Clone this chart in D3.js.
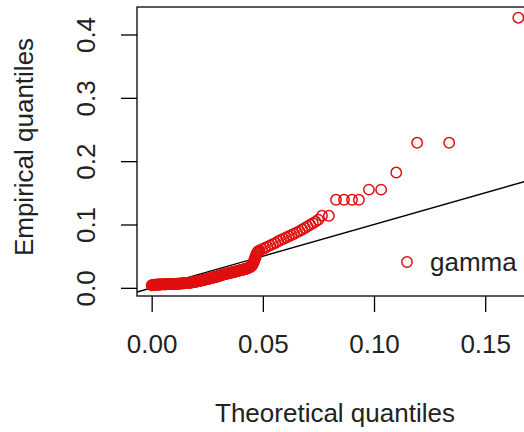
<!DOCTYPE html>
<html lang="en">
<head>
<meta charset="utf-8">
<title>qq plot gamma</title>
<script src="https://d3js.org/d3.v7.min.js"></script>
<style>
  body{ margin:0; background:#fff; }
  svg{ display:block; font-family:"Liberation Sans", Arial, sans-serif; }
</style>
</head>
<body>
<div id="chart"></div>
<script>
// theoretical quantiles (x) and empirical quantiles (y)
var theoretical = [
  0.0000,0.00035,0.0007,0.00105,0.0014,0.00175,0.0021,0.00245,0.0028,0.00315,
  0.0035,0.00385,0.0042,0.00455,0.0049,0.00525,0.0056,0.00595,0.0063,0.00665,
  0.0070,0.00735,0.0077,0.00805,0.0084,0.00875,0.0091,0.00945,0.0098,0.01015,
  0.0105,0.01085,0.0112,0.01155,0.0119,0.01225,0.0126,0.01295,0.0133,0.01365,
  0.0140,0.01435,0.0147,0.01505,0.0154,0.01575,0.0161,0.01645,0.0168,0.01715,
  0.0175,0.01785,0.0182,0.01855,0.0189,0.01925,0.0196,0.01995,0.0203,0.02065,
  0.0210,0.02135,0.0217,0.02205,0.0224,0.02275,0.0231,0.02345,0.0238,0.02415,
  0.0245,0.02485,0.0252,0.02555,0.0259,0.02625,0.0266,0.02695,0.0273,0.02765,
  0.0280,0.02835,0.0287,0.02905,0.0294,0.02975,0.0301,0.03045,0.0308,0.03115,
  0.0315,0.03185,0.0322,0.03255,0.0329,0.03325,0.0336,0.03395,0.0343,0.03465,
  0.0350,0.03535,0.0357,0.03605,0.0364,0.03675,0.0371,0.03745,0.0378,0.03815,
  0.0385,0.03885,0.0392,0.03955,0.0399,0.04025,0.0406,0.04095,0.0413,0.04165,
  0.0420,0.04235,0.0427,0.04305,0.0434,0.04375,0.0441,0.04445,0.0448,0.04515,
  0.0455,0.0458,0.0460,0.0462,0.0464,0.0466,0.0468,0.0470,0.0472,0.0475,
  0.0477,0.0481,0.0485,0.0497,0.0509,0.0521,0.0533,0.0545,0.0557,0.0569,
  0.0581,0.0593,0.0605,0.0617,0.0629,0.0641,0.0653,0.0665,0.0677,0.0689,
  0.0701,0.0713,0.0725,0.0737,0.0749,0.0766,0.0797,0.0829,0.0865,0.0901,
  0.0932,0.0977,0.1032,0.1100,0.1194,0.1338,0.1649
]
var empirical = [
  0.0040,0.0043,0.0045,0.0047,0.0048,0.0049,0.0050,0.0051,0.0052,0.0052,
  0.0053,0.0053,0.0054,0.0054,0.0055,0.0055,0.0056,0.0056,0.0057,0.0057,
  0.0058,0.0058,0.0059,0.0059,0.0060,0.0060,0.0061,0.0061,0.0062,0.0062,
  0.0063,0.0063,0.0064,0.0064,0.0065,0.0066,0.0067,0.0068,0.0069,0.0070,
  0.0071,0.0072,0.0073,0.0074,0.0075,0.0076,0.0077,0.0078,0.0079,0.0080,
  0.0082,0.0084,0.0086,0.0088,0.0091,0.0093,0.0096,0.0098,0.0101,0.0104,
  0.0107,0.0109,0.0112,0.0114,0.0117,0.0120,0.0123,0.0126,0.0129,0.0132,
  0.0135,0.0138,0.0141,0.0144,0.0147,0.0150,0.0153,0.0156,0.0159,0.0162,
  0.0166,0.0169,0.0173,0.0176,0.0180,0.0183,0.0187,0.0191,0.0195,0.0199,
  0.0203,0.0206,0.0210,0.0213,0.0217,0.0220,0.0222,0.0225,0.0228,0.0231,
  0.0234,0.0237,0.0240,0.0243,0.0246,0.0249,0.0252,0.0255,0.0258,0.0262,
  0.0266,0.0269,0.0272,0.0275,0.0278,0.0281,0.0284,0.0287,0.0290,0.0294,
  0.0298,0.0302,0.0306,0.0310,0.0315,0.0320,0.0326,0.0333,0.0342,0.0355,
  0.0375,0.0395,0.0420,0.0440,0.0460,0.0480,0.0500,0.0520,0.0540,0.0555,
  0.0570,0.0580,0.0590,0.0610,0.0630,0.0650,0.0670,0.0690,0.0710,0.0735,
  0.0755,0.0775,0.0795,0.0815,0.0835,0.0855,0.0875,0.0895,0.0920,0.0945,
  0.0970,0.0995,0.1020,0.1045,0.1075,0.1137,0.1137,0.1390,0.1390,0.1390,
  0.1390,0.1550,0.1550,0.1820,0.2290,0.2290,0.4265
]
var xTicks = [0, 0.05, 0.10, 0.15]
var yTicks = [0, 0.1, 0.2, 0.3, 0.4]
var legendLabel = "gamma"

var W = 524, H = 432
var box = {left:137, right:533, top:7, bottom:296}
var red = "#e01010"

var svg = d3.select("#chart").append("svg")
  .attr("width", W).attr("height", H)

svg.append("rect").attr("width", W).attr("height", H).attr("fill", "#fff")

// R style: pad the data range by 4% on each side
function padded(vals){
  var e = d3.extent(vals), p = (e[1]-e[0])*0.04
  return [e[0]-p, e[1]+p]
}
var x = d3.scaleLinear().domain(padded(theoretical)).range([box.left, box.right])
var y = d3.scaleLinear().domain(padded(empirical)).range([box.bottom, box.top])

svg.append("clipPath").attr("id", "plotclip")
  .append("rect")
  .attr("x", box.left).attr("y", box.top)
  .attr("width", box.right-box.left).attr("height", box.bottom-box.top)

// reference line y = x
var xd = x.domain()
svg.append("line")
  .attr("clip-path", "url(#plotclip)")
  .attr("x1", x(xd[0])).attr("y1", y(xd[0]))
  .attr("x2", x(xd[1])).attr("y2", y(xd[1]))
  .attr("stroke", "#000").attr("stroke-width", 1.4)

// points
svg.append("g").selectAll("circle")
  .data(theoretical.map(function(d,i){ return [d, empirical[i]] }))
  .join("circle")
  .attr("cx", function(d){ return x(d[0]) })
  .attr("cy", function(d){ return y(d[1]) })
  .attr("r", 5.2)
  .attr("fill", "none")
  .attr("stroke", red)
  .attr("stroke-width", 1.5)

// frame
svg.append("rect")
  .attr("x", box.left).attr("y", box.top)
  .attr("width", box.right-box.left).attr("height", box.bottom-box.top)
  .attr("fill", "none").attr("stroke", "#000").attr("stroke-width", 1.3)

// x axis
var gx = svg.append("g")
  .attr("transform", "translate(0," + box.bottom + ")")
  .call(d3.axisBottom(x).tickValues(xTicks).tickSize(16).tickPadding(23)
        .tickFormat(d3.format(".2f")))
gx.select(".domain").remove()
gx.selectAll("line").attr("stroke", "#000").attr("stroke-width", 1.3)
gx.selectAll("text").attr("font-size", 26).attr("fill", "#222")
  .attr("font-family", "Liberation Sans, Arial, sans-serif")

// y axis, labels parallel to the axis like R
var gy = svg.append("g")
  .attr("transform", "translate(" + box.left + ",0)")
  .call(d3.axisLeft(y).tickValues(yTicks).tickSize(16).tickFormat(d3.format(".1f")))
gy.select(".domain").remove()
gy.selectAll("line").attr("stroke", "#000").attr("stroke-width", 1.3)
gy.selectAll("text")
  .attr("x", null).attr("dy", null)
  .attr("text-anchor", "middle")
  .attr("transform", "translate(" + (95-box.left) + ",0) rotate(-90)")
  .attr("font-size", 26).attr("fill", "#222")
  .attr("font-family", "Liberation Sans, Arial, sans-serif")

// axis titles
svg.append("text")
  .attr("x", (box.left+box.right)/2).attr("y", 422)
  .attr("text-anchor", "middle")
  .attr("font-size", 26).attr("fill", "#222")
  .text("Theoretical quantiles")

svg.append("text")
  .attr("transform", "translate(33,147) rotate(-90)")
  .attr("text-anchor", "middle")
  .attr("font-size", 26).attr("fill", "#222")
  .text("Empirical quantiles")

// legend
var lg = svg.append("g").attr("transform", "translate(407,262)")
lg.append("circle").attr("r", 5.2).attr("fill", "none")
  .attr("stroke", red).attr("stroke-width", 1.5)
lg.append("text").attr("x", 23).attr("y", 9)
  .attr("font-size", 26).attr("fill", "#222")
  .text(legendLabel)
</script>
</body>
</html>
